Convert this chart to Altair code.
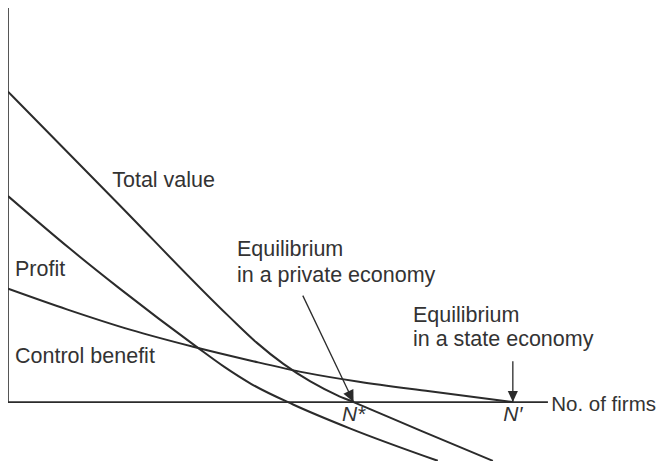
import altair as alt
import pandas as pd

# ---- data (x: number of firms, y: value; arbitrary units)
total_x = [0, 20.0, 41.0, 46.0, 51.0, 56.0, 61.0, 64.0, 76.3, 89.8]
total_y = [78.0, 50.4, 21.4, 15.0, 9.6, 5.2, 1.7, 0.0, -7.1, -14.75]

profit_x = [0, 11.5, 20.7, 35.0, 40.0, 45.0, 52.8, 63.3, 79.6]
profit_y = [51.75, 38.5, 28.5, 13.8, 8.9, 4.6, -0.6, -6.6, -14.75]

control_x = [0, 10.9, 22.6, 34.3, 45.0, 55.0, 65.0, 78.1, 93.5]
control_y = [28.5, 23.3, 18.2, 13.9, 10.4, 7.4, 5.1, 2.7, 0.0]

n_star = 64.0      # equilibrium in a private economy
n_prime = 93.5     # equilibrium in a state economy
axis_x_end = 100.0
axis_y_end = 99.0

# annotation texts
label_text = ["Total value", "Profit", "Control benefit",
              "Equilibrium", "in a private economy",
              "Equilibrium", "in a state economy"]
label_x = [19.3, 1.3, 1.3, 42.4, 42.4, 75.0, 75.0]
label_y = [54.0, 31.75, 9.75, 36.75, 30.25, 20.0, 14.0]

# ---- frames
curves = pd.concat([
    pd.DataFrame({"x": total_x, "y": total_y, "s": "Total value"}),
    pd.DataFrame({"x": profit_x, "y": profit_y, "s": "Profit"}),
    pd.DataFrame({"x": control_x, "y": control_y, "s": "Control benefit"}),
])

axes = pd.DataFrame({"x": [0, 0], "y": [0, 0],
                     "x2": [axis_x_end, 0], "y2": [0, axis_y_end]})

arrows = pd.DataFrame({"x": [54.6, n_prime], "y": [26.75, 10.25],
                       "x2": [n_star, n_prime], "y2": [0, 0]})

heads = pd.DataFrame({"x": [n_star, n_prime], "y": [0, 0],
                      "ang": [334.5, 0.0], "sz": [576, 484]})

labels = pd.DataFrame({"t": label_text, "x": label_x, "y": label_y})
axis_title = pd.DataFrame({"t": ["No. of firms"], "x": [100.6], "y": [-2.25]})
nlabels = pd.DataFrame({"t": ["N*", "N\u2032"], "x": [n_star, n_prime], "y": [-4.75, -4.75]})

xs = alt.Scale(domain=[0, 120.2], nice=False, zero=False)
ys = alt.Scale(domain=[-14.8, 99.0], nice=False, zero=False)


def X(f="x"):
    return alt.X(f"{f}:Q", scale=xs, axis=None)


def Y(f="y"):
    return alt.Y(f"{f}:Q", scale=ys, axis=None)


ink = "#2b2b2b"
txt = "#333333"
font = "Liberation Sans"

axis_layer = alt.Chart(axes).mark_rule(color=ink, strokeWidth=1.6).encode(
    x=X(), y=Y(), x2="x2:Q", y2="y2:Q")

curve_layer = alt.Chart(curves).mark_line(
    color=ink, strokeWidth=2, interpolate="monotone").encode(
    x=X(), y=Y(), detail="s:N", order="x:Q")

arrow_layer = alt.Chart(arrows).mark_rule(color=ink, strokeWidth=1.3).encode(
    x=X(), y=Y(), x2="x2:Q", y2="y2:Q")

head_layer = alt.Chart(heads).mark_point(
    shape="M0,0L-0.46,-1L0.46,-1Z", filled=True, color=ink, opacity=1,
    strokeWidth=0).encode(
    x=X(), y=Y(), angle=alt.Angle("ang:Q", scale=None),
    size=alt.Size("sz:Q", scale=None))

text_layer = alt.Chart(labels).mark_text(
    align="left", baseline="alphabetic", font=font, fontSize=21.5, color=txt).encode(
    x=X(), y=Y(), text="t:N")

title_layer = alt.Chart(axis_title).mark_text(
    align="left", baseline="alphabetic", font=font, fontSize=20.5, color=txt).encode(
    x=X(), y=Y(), text="t:N")

ntext_layer = alt.Chart(nlabels).mark_text(
    align="center", baseline="alphabetic", font=font, fontSize=21,
    fontStyle="italic", color=txt).encode(
    x=X(), y=Y(), text="t:N")

chart = alt.layer(axis_layer, curve_layer, arrow_layer, head_layer,
                  text_layer, title_layer, ntext_layer).properties(
    width=649, height=453, padding=0,
    autosize=alt.AutoSizeParams(type="none", contains="padding"),
    background="white",
).configure_view(stroke=None)

chart.save("out.html", embed_options={"renderer": "svg", "actions": False})
